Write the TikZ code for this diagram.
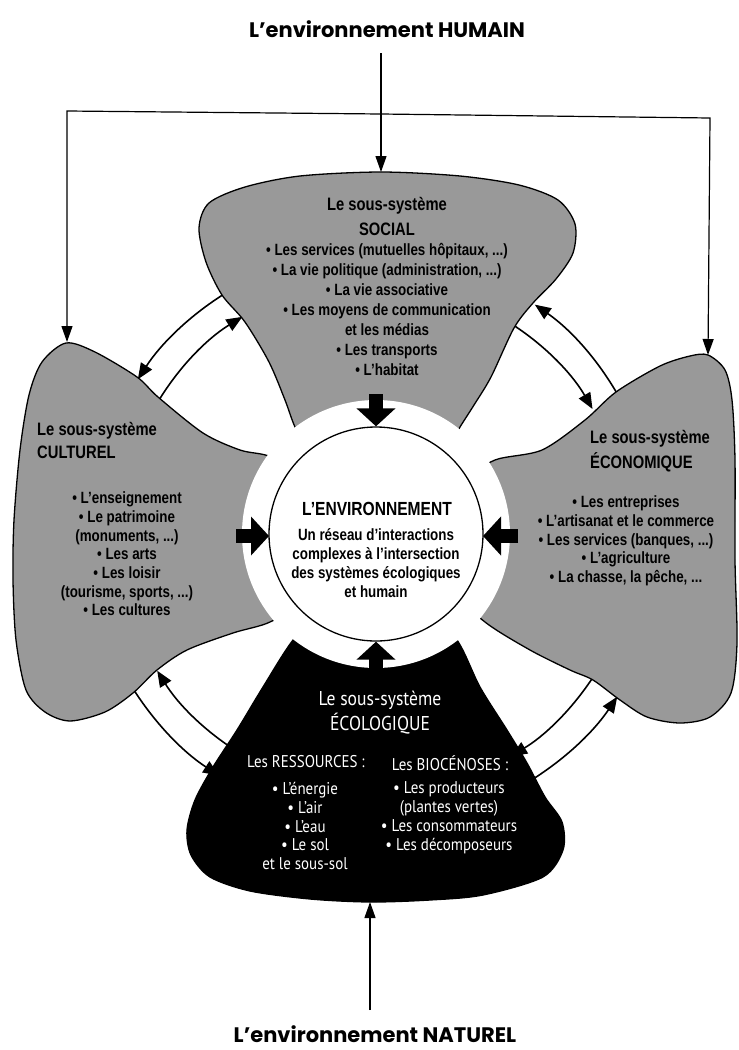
\documentclass[tikz,border=0pt]{standalone}
\usepackage{fontspec}
\usetikzlibrary{arrows.meta,calc}
\newfontfamily\titlefont{Poppins}
\newfontfamily\lobefont{Liberation Sans}[FakeStretch=0.82]
\newfontfamily\ecofont{PT Sans}[FakeStretch=0.88]
\definecolor{lobegray}{gray}{0.6}
\begin{document}
\begin{tikzpicture}[x=1pt,y=-1pt,
  lobe/.style={fill=lobegray,draw=black,line width=1.3pt},
  ecolobe/.style={fill=black,draw=black,line width=1.3pt},
  thinarrow/.style={draw=black,line width=1.2pt,-{Triangle[length=16pt,width=11pt]}},
  linkarrow/.style={draw=black,line width=1.6pt,-{Triangle[length=16pt,width=13pt]}},
  bigarrow/.style={draw=black,line width=14pt,-{Triangle[length=18pt,width=38pt]}},
  titletxt/.style={inner sep=0pt,font=\titlefont\bfseries\fontsize{21}{24}\selectfont},
  ghead/.style={align=center,inner sep=0pt,font=\lobefont\bfseries\fontsize{18}{25}\selectfont},
  glist/.style={align=center,inner sep=0pt,font=\lobefont\bfseries\fontsize{16.3}{20}\selectfont},
  ehead/.style={align=center,inner sep=0pt,text=white,font=\ecofont\fontsize{20}{25}\selectfont},
  elist/.style={align=center,inner sep=0pt,text=white,font=\ecofont\fontsize{17}{19}\selectfont}]
\useasboundingbox (0,0) rectangle (739,1050);
\fill[white] (0,0) rectangle (739,1050);
\coordinate (C) at (376,534);

% links between sub-systems (drawn first, they start inside the lobes)
\draw[linkarrow] ($(C)+(-119:284)$) arc[start angle=-119,end angle=-147,radius=284];
\draw[linkarrow] ($(C)+(-152:255)$) arc[start angle=-152,end angle=-121.6,radius=255];
\draw[linkarrow] ($(C)+(-26:279)$) arc[start angle=-26,end angle=-55.3,radius=279];
\draw[linkarrow] ($(C)+(-60:250)$) arc[start angle=-60,end angle=-30,radius=250];
\draw[linkarrow] ($(C)+(151:288)$) arc[start angle=151,end angle=123,radius=288];
\draw[linkarrow] ($(C)+(118:258)$) arc[start angle=118,end angle=148,radius=258];
\draw[linkarrow] ($(C)+(62:291)$) arc[start angle=62,end angle=34,radius=291];
\draw[linkarrow] ($(C)+(30:260)$) arc[start angle=30,end angle=58.7,radius=260];

% lobes
\draw[lobe] plot[smooth cycle] coordinates {(295,427) (285,400) (269,362) (245,322) (222,295) (206,262) (199,228) (209,203) (245,187) (300,176) (381,172) (460,176) (519,185) (558,200) (575,224) (573,253) (556,279) (533,303) (514,328) (491,377) (474,405) (460,427) (440,460) (376,475) (312,460)};
\draw[lobe] plot[smooth cycle] coordinates {(66,343) (95,352) (137,377) (158,397) (203,433) (240,450) (271,457) (300,480) (318,540) (300,600) (270,622) (233,633) (187,650) (157,670) (133,693) (105,712) (70,721) (45,712) (26,690) (16,640) (13,580) (14,520) (20,450) (29,395) (42,362)};
\draw[lobe] plot[smooth cycle] coordinates {(708,355) (725,370) (732,400) (735,460) (735,560) (737,643) (731,693) (710,717) (680,723) (647,717) (620,700) (593,680) (570,670) (530,650) (485,622) (455,590) (450,530) (470,480) (495,460) (542,450) (585,420) (616,392) (660,366) (690,356)};
\draw[ecolobe] plot[smooth cycle] coordinates {(293,640) (263,687) (237,730) (213,767) (195,800) (187,830) (191,855) (210,877) (250,891) (310,899) (370,902) (430,900) (483,895) (543,877) (563,850) (562,822) (545,797) (527,763) (507,730) (480,687) (457,640) (420,600) (376,590) (330,600)};

% central ring and circle
\fill[white] (C) circle[radius=134];
\node[circle,draw=black,line width=1.3pt,fill=white,minimum size=214pt,inner sep=0pt] (env) at (C) {};

% big arrows into the circle
\draw[bigarrow] ($(C)+(0,-140)$) -- (env.north);
\draw[bigarrow] ($(C)+(-140,2)$) -- ($(C)+(-107,2)$);
\draw[bigarrow] ($(C)+(142,2)$) -- ($(C)+(107,2)$);
\draw[bigarrow] ($(C)+(0,140)$) -- (env.south);

% outer connectors
\node[titletxt] (humain) at (387,29) {L’environnement HUMAIN};
\node[titletxt] (naturel) at (375,1034) {L’environnement NATUREL};
\coordinate (topstart) at (381,53);
\coordinate (socialtop) at (381,172);
\coordinate (jn) at (381,114);
\coordinate (jl) at (67,111);
\coordinate (jr) at (710,118);
\coordinate (cultop) at (67,342);
\coordinate (ecotop) at (708,355);
\coordinate (natstart) at (370,1010);
\coordinate (ecobottom) at (370,902);
\draw[thinarrow] (topstart) -- (socialtop);
\draw[thinarrow] (jn) -- (jl) -- (cultop);
\draw[thinarrow] (jn) -- (jr) -- (ecotop);
\draw[thinarrow] (natstart) -- (ecobottom);

% texts
\node[ghead] (sochead) at (387,216) {Le sous-système\\SOCIAL};
\node[glist] (soclist) at (387,309) {• Les services (mutuelles hôpitaux, ...)\\• La vie politique (administration, ...)\\• La vie associative\\• Les moyens de communication\\et les médias\\• Les transports\\• L’habitat};
\node[ghead,anchor=west,align=left,font=\lobefont\bfseries\fontsize{18}{23}\selectfont] (culhead) at (37,440) {Le sous-système\\CULTUREL};
\node[glist,font=\lobefont\bfseries\fontsize{16.3}{18.7}\selectfont] (cullist) at (127,554) {• L’enseignement\\• Le patrimoine\\(monuments, ...)\\• Les arts\\• Les loisir\\(tourisme, sports, ...)\\• Les cultures};
\node[ghead,anchor=west,align=left] (ecohead) at (590,451) {Le sous-système\\ÉCONOMIQUE};
\node[glist,font=\lobefont\bfseries\fontsize{16.3}{18.75}\selectfont] (ecolist) at (626,541) {• Les entreprises\\• L’artisanat et le commerce\\• Les services (banques, ...)\\• L’agriculture\\• La chasse, la pêche, ...};
\node[inner sep=0pt,font=\lobefont\bfseries\fontsize{19}{20}\selectfont] (envtitle) at (377,509) {L’ENVIRONNEMENT};
\node[glist,font=\lobefont\bfseries\fontsize{16.3}{19}\selectfont] (envtext) at (376,563) {Un réseau d’interactions\\complexes à l’intersection\\des systèmes écologiques\\et humain};
\node[ehead] (eolhead) at (380,713) {Le sous-système\\ÉCOLOGIQUE};
\node[elist] (reshead) at (306,762) {Les RESSOURCES :};
\node[elist,font=\ecofont\fontsize{17}{18.75}\selectfont] (reslist) at (305,826) {• L’énergie\\• L’air\\• L’eau\\• Le sol\\et le sous-sol};
\node[elist] (biohead) at (450,763) {Les BIOCÉNOSES :};
\node[elist] (biolist) at (449,818) {• Les producteurs\\(plantes vertes)\\• Les consommateurs\\• Les décomposeurs};
\end{tikzpicture}
\end{document}
